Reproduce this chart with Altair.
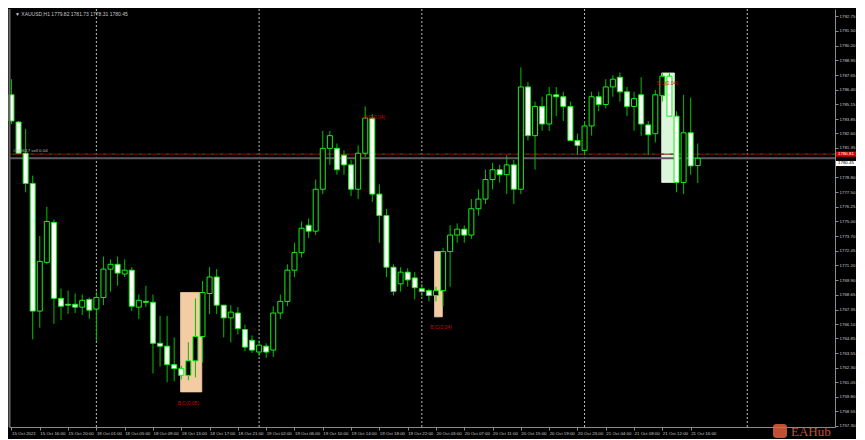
import altair as alt
import pandas as pd

# ---------------- data ----------------
opens = [1785.95, 1783.59, 1780.89, 1778.27, 1767.22, 1771.44, 1774.90, 1768.32, 1767.81, 1767.81,
         1767.56, 1768.23, 1767.39, 1768.40, 1770.85, 1771.27, 1770.43, 1770.76, 1767.56, 1768.06,
         1767.98, 1764.43, 1764.18, 1762.58, 1762.24, 1761.65, 1762.91, 1765.02, 1768.74, 1770.17,
         1767.73, 1766.63, 1767.05, 1765.62, 1764.69, 1763.67, 1764.18, 1763.84, 1767.05, 1768.06,
         1770.76, 1772.28, 1774.65, 1774.14, 1777.77, 1781.31, 1781.31, 1780.72, 1779.88, 1777.77,
         1780.89, 1783.93, 1777.35, 1775.49, 1771.02, 1769.58, 1770.59, 1770.09, 1769.16, 1768.99,
         1768.57, 1768.99, 1772.37, 1773.80, 1774.31, 1773.80, 1776.08, 1776.92, 1778.61, 1779.46,
         1779.03, 1779.88, 1777.77, 1786.63, 1782.41, 1784.94, 1783.42, 1785.95, 1785.78, 1784.94,
         1781.99, 1781.14, 1783.25, 1785.78, 1785.11, 1786.63, 1787.47, 1786.21, 1784.94, 1785.95,
         1783.34, 1782.58, 1785.87, 1787.56, 1784.10, 1778.36, 1782.66, 1779.82]
highs = [1787.30, 1783.68, 1783.00, 1778.95, 1773.72, 1776.25, 1775.15, 1769.16, 1768.99, 1768.74,
         1768.65, 1768.40, 1768.91, 1771.94, 1771.69, 1771.94, 1771.69, 1771.02, 1768.65, 1769.41,
         1768.65, 1766.80, 1766.80, 1764.94, 1762.49, 1764.52, 1768.32, 1769.84, 1771.02, 1770.85,
         1767.73, 1767.73, 1767.56, 1766.04, 1765.11, 1764.69, 1764.43, 1767.64, 1768.65, 1771.27,
         1773.13, 1774.98, 1775.24, 1778.61, 1782.83, 1782.83, 1781.73, 1781.14, 1780.30, 1781.57,
         1784.94, 1784.27, 1778.19, 1776.08, 1771.27, 1771.02, 1770.93, 1770.59, 1769.58, 1769.16,
         1769.33, 1772.70, 1774.65, 1774.81, 1774.65, 1776.92, 1777.77, 1779.46, 1780.05, 1779.88,
         1780.72, 1780.30, 1788.32, 1787.05, 1785.36, 1785.78, 1786.63, 1786.63, 1786.21, 1785.36,
         1782.58, 1783.68, 1786.21, 1786.21, 1787.30, 1787.64, 1787.89, 1786.63, 1786.21, 1787.47,
         1783.68, 1786.38, 1787.81, 1787.81, 1784.52, 1785.95, 1785.70, 1781.73]
lows = [1783.42, 1780.81, 1777.51, 1764.77, 1765.78, 1771.27, 1766.12, 1766.46, 1766.97, 1767.05,
        1766.88, 1766.54, 1764.60, 1767.73, 1768.91, 1769.41, 1770.17, 1767.22, 1766.54, 1767.56,
        1761.82, 1762.41, 1761.06, 1761.14, 1761.31, 1761.23, 1761.48, 1762.75, 1766.97, 1766.97,
        1764.94, 1764.52, 1765.19, 1763.76, 1763.59, 1763.34, 1763.17, 1763.25, 1766.54, 1767.64,
        1770.17, 1771.86, 1773.55, 1773.80, 1777.35, 1779.88, 1779.03, 1779.03, 1777.18, 1776.92,
        1780.55, 1776.67, 1773.13, 1770.17, 1768.57, 1768.91, 1769.33, 1768.23, 1768.48, 1768.06,
        1768.06, 1767.64, 1769.33, 1773.13, 1773.13, 1773.46, 1775.49, 1776.50, 1777.77, 1778.36,
        1777.35, 1776.50, 1777.35, 1781.99, 1779.46, 1782.83, 1782.83, 1784.10, 1783.68, 1781.99,
        1780.72, 1780.72, 1782.41, 1784.52, 1784.77, 1785.78, 1785.36, 1784.10, 1782.83, 1782.41,
        1780.72, 1781.82, 1785.36, 1784.10, 1777.51, 1777.35, 1779.03, 1778.31]
closes = [1783.68, 1780.89, 1778.27, 1767.22, 1771.52, 1774.98, 1768.32, 1767.64, 1767.73, 1767.56,
          1768.15, 1767.30, 1768.40, 1770.85, 1771.27, 1770.51, 1770.76, 1767.64, 1768.15, 1767.98,
          1764.43, 1764.18, 1762.58, 1762.24, 1761.65, 1762.91, 1765.02, 1768.82, 1770.17, 1767.73,
          1766.63, 1767.13, 1765.70, 1764.10, 1763.84, 1764.27, 1763.67, 1767.05, 1768.06, 1770.76,
          1772.28, 1774.39, 1774.14, 1777.77, 1781.31, 1782.41, 1779.46, 1779.88, 1777.77, 1780.89,
          1783.93, 1777.35, 1775.49, 1771.02, 1768.91, 1770.59, 1769.92, 1769.24, 1768.91, 1768.57,
          1768.99, 1772.37, 1773.80, 1774.31, 1773.80, 1776.08, 1776.92, 1778.61, 1779.46, 1779.03,
          1779.88, 1777.77, 1786.63, 1782.41, 1784.94, 1783.42, 1785.95, 1785.78, 1784.94, 1781.99,
          1781.57, 1783.25, 1785.78, 1785.11, 1786.63, 1787.30, 1786.21, 1784.94, 1785.62, 1783.42,
          1782.49, 1785.95, 1787.56, 1784.10, 1778.36, 1782.66, 1779.79, 1780.45]

time_labels = ["15 Oct 2021", "15 Oct 16:00", "15 Oct 20:00", "18 Oct 01:00", "18 Oct 05:00",
               "18 Oct 09:00", "18 Oct 13:00", "18 Oct 17:00", "18 Oct 21:00", "19 Oct 02:00",
               "19 Oct 06:00", "19 Oct 10:00", "19 Oct 14:00", "19 Oct 18:00", "19 Oct 22:00",
               "20 Oct 03:00", "20 Oct 07:00", "20 Oct 11:00", "20 Oct 15:00", "20 Oct 19:00",
               "20 Oct 23:00", "21 Oct 04:00", "21 Oct 08:00", "21 Oct 12:00", "21 Oct 16:00"]
time_label_bars = [4 * i for i in range(len(time_labels))]

price_ticks = [1792.75, 1791.50, 1790.20, 1788.95, 1787.65, 1786.40, 1785.15, 1783.85, 1782.60,
               1781.35, 1780.05, 1778.80, 1777.50, 1776.25, 1775.00, 1773.70, 1772.45, 1771.20,
               1769.90, 1768.65, 1767.35, 1766.10, 1764.85, 1763.55, 1762.30, 1761.05, 1759.80,
               1758.55, 1757.30]

day_separator_bars = [12, 35, 58, 81, 104]

box_start = [23.9, 59.8, 91.9]
box_end = [26.9, 60.9, 93.7]
box_top = [1768.83, 1772.37, 1787.84]
box_bottom = [1760.22, 1766.72, 1778.36]
box_fill = ["#f3cca4", "#f3cca4", "#dcf6dc"]

note_bar = [25.0, 51.3, 60.7, 92.7]
note_price = [1759.3, 1784.0, 1765.8, 1786.97]
note_text = ["B:C(0.05)", "B:C(0.04)", "B:C(0.04)", "S:C(0.04)"]

title_text = "\u25BC XAUUSD,H1  1779.82 1781.73 1778.31 1780.45"
order_text = "#283617 sell 0.04"
bid_price = 1780.45
order_price = 1780.81

# ---------------- layout ----------------
W, H = 826, 418
X_DOM = [-0.35, 116.4]
Y_DOM = [1757.18, 1793.38]
xs = alt.Scale(domain=X_DOM, nice=False, zero=False, padding=0)
ys = alt.Scale(domain=Y_DOM, nice=False, zero=False, padding=0)

candles = pd.DataFrame({"bar": list(range(len(opens))), "open": opens, "high": highs,
                        "low": lows, "close": closes})
boxes = pd.DataFrame({"s": box_start, "e": box_end, "t": box_top, "b": box_bottom, "f": box_fill})
notes = pd.DataFrame({"bar": note_bar, "p": note_price, "txt": note_text})
seps = pd.DataFrame({"bar": day_separator_bars})

label_expr = "[" + ",".join("'%s'" % s for s in time_labels) + "][round(datum.value/4)]"

x_axis = alt.Axis(values=time_label_bars, labelExpr=label_expr, labelAlign="left",
                  labelColor="#c8c8c8", labelFontSize=4.4, labelFont="Liberation Sans",
                  labelPadding=1, tickSize=3, tickColor="#8a8a8a", domainColor="#8a8a8a",
                  labelOverlap=False, labelFlush=False, grid=False, title=None)
y_axis = alt.Axis(values=price_ticks, orient="right", format=".2f", labelColor="#c8c8c8",
                  labelFontSize=4.4, labelFont="Liberation Sans", labelPadding=1, tickSize=3,
                  tickColor="#8a8a8a", domainColor="#8a8a8a", labelOverlap=False,
                  labelFlush=False, grid=False, title=None)


def X(field):
    return alt.X(field, scale=xs, axis=x_axis)


def Y(field):
    return alt.Y(field, scale=ys, axis=y_axis)


boxes_layer = alt.Chart(boxes).mark_rect(strokeWidth=0.8, opacity=1).encode(
    x=X("s:Q"), x2="e:Q", y=Y("t:Q"), y2="b:Q",
    fill=alt.Fill("f:N", scale=None), stroke=alt.Stroke("f:N", scale=None))

sep_layer = alt.Chart(seps).mark_rule(color="#bdbdbd", strokeDash=[2, 2], strokeWidth=1).encode(
    x=X("bar:Q"))

bid_layer = alt.Chart(pd.DataFrame({"p": [bid_price]})).mark_rule(
    color="#5c5c68", strokeWidth=2).encode(y=Y("p:Q"))
order_layer = alt.Chart(pd.DataFrame({"p": [order_price]})).mark_rule(
    color="#9a0000", strokeWidth=1).encode(y=Y("p:Q"))
order_dash = alt.Chart(pd.DataFrame({"p": [order_price]})).mark_rule(
    color="#0b6b0b", strokeWidth=1, strokeDash=[3, 6]).encode(y=Y("p:Q"))

wicks = alt.Chart(candles).mark_rule(color="#00c000", strokeWidth=1).encode(
    x=X("bar:Q"), y=Y("high:Q"), y2="low:Q")

bodies = alt.Chart(candles).mark_bar(width=5, stroke="#14f014", strokeWidth=1).encode(
    x=X("bar:Q"), y=Y("open:Q"), y2="close:Q",
    fill=alt.condition("datum.close >= datum.open", alt.value("#000000"), alt.value("#ffffff")))

notes_layer = alt.Chart(notes).mark_text(color="#d00000", fontSize=5, font="Liberation Sans").encode(
    x=X("bar:Q"), y=Y("p:Q"), text="txt:N")

title_layer = alt.Chart(pd.DataFrame({"t": [title_text]})).mark_text(
    align="left", baseline="middle", color="#c8c8c8", fontSize=5, font="Liberation Sans").encode(
    x=alt.value(6), y=alt.value(5), text="t:N")

order_label = alt.Chart(pd.DataFrame({"p": [order_price], "t": [order_text]})).mark_text(
    align="left", baseline="bottom", color="#bdbdbd", fontSize=4.4, font="Liberation Sans", dy=-1).encode(
    x=alt.value(4), y=Y("p:Q"), text="t:N")

left_border = alt.Chart(pd.DataFrame({"a": [0]})).mark_rule(color="#6a6a6a", strokeWidth=2).encode(
    x=alt.value(0.5), y=alt.value(0), y2=alt.value(H))

tags = pd.DataFrame({"p": [order_price, bid_price], "t": ["1780.81", "1780.45"],
                     "bg": ["#e00000", "#ffffff"], "fg": ["#ffffff", "#000000"],
                     "shift": [0.0, -0.45]})
tag_boxes = alt.Chart(tags).transform_calculate(
    top="datum.p + datum.shift + 0.22", bot="datum.p + datum.shift - 0.22").mark_rect(clip=False).encode(
    x=alt.value(W + 1), x2=alt.value(W + 21),
    y=Y("top:Q"), y2="bot:Q",
    fill=alt.Fill("bg:N", scale=None))
tag_text = alt.Chart(tags).transform_calculate(
    mid="datum.p + datum.shift").mark_text(
    align="left", baseline="middle", fontSize=4.4, font="Liberation Sans", clip=False).encode(
    x=alt.value(W + 3), y=Y("mid:Q"), text="t:N",
    color=alt.Color("fg:N", scale=None))

watermark = alt.Chart(pd.DataFrame({"t": ["EAHub"]})).mark_text(
    align="left", baseline="bottom", color="#e0603c", fontSize=13, font="Liberation Serif",
    opacity=0.85, clip=False).encode(x=alt.value(W - 44), y=alt.value(H + 12), text="t:N")
logo = alt.Chart(pd.DataFrame({"a": [0]})).mark_rect(
    color="#e0603c", cornerRadius=3, opacity=0.85, clip=False).encode(
    x=alt.value(W - 62), x2=alt.value(W - 48), y=alt.value(H - 3), y2=alt.value(H + 11))

chart = alt.layer(
    boxes_layer, sep_layer, bid_layer, order_layer, order_dash, wicks, bodies,
    notes_layer, title_layer, order_label, left_border, tag_boxes, tag_text, logo, watermark
).properties(width=W, height=H, background="#000000", padding=0).configure_view(
    strokeWidth=0, fill="#000000")

chart.save("out.html", embed_options={"renderer": "svg", "actions": False})
